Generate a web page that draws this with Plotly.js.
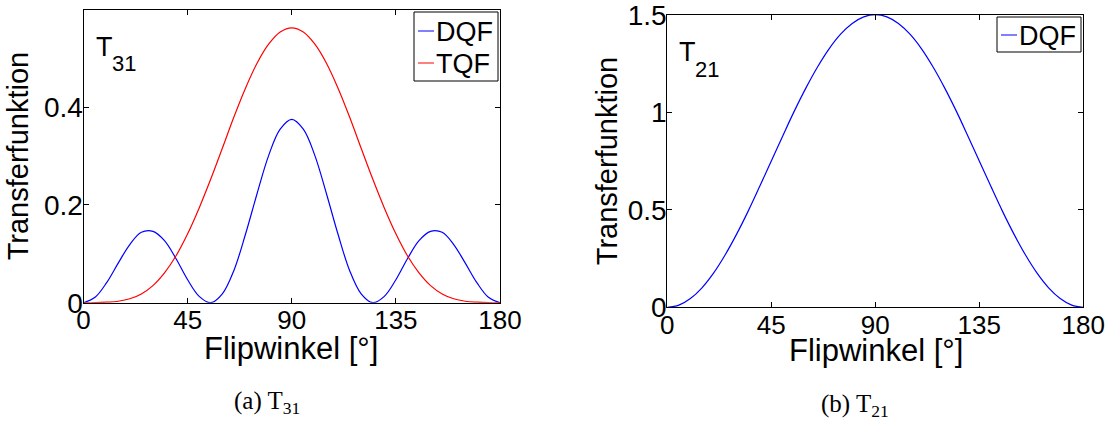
<!DOCTYPE html>
<html>
<head>
<meta charset="utf-8">
<script src="https://cdn.plot.ly/plotly-3.0.1.min.js"></script>
<style>
  html, body { margin: 0; padding: 0; background: #fff; }
  #chart { width: 1113px; height: 424px; }
</style>
</head>
<body>
<div id="chart"></div>
<script>
// Flip angle in degrees (shared by all curves)
const flipAngle = [0, 5, 10, 15, 20, 25, 30, 35, 40, 45, 50, 55, 60, 65, 70, 75, 80, 85, 90,
                   95, 100, 105, 110, 115, 120, 125, 130, 135, 140, 145, 150, 155, 160, 165, 170, 175, 180];

// T31 transfer functions
const dqfT31 = [0, 0.011, 0.041, 0.081, 0.119, 0.144, 0.146, 0.127, 0.090, 0.047, 0.013, 0.000, 0.018,
                0.066, 0.140, 0.223, 0.301, 0.355, 0.375, 0.355, 0.301, 0.223, 0.140, 0.066, 0.018,
                0.000, 0.013, 0.047, 0.090, 0.127, 0.146, 0.144, 0.119, 0.081, 0.041, 0.011, 0];
const tqfT31 = [0, 0.000, 0.001, 0.003, 0.008, 0.018, 0.035, 0.061, 0.096, 0.141, 0.194, 0.253, 0.316,
                0.380, 0.439, 0.490, 0.529, 0.554, 0.5625, 0.554, 0.529, 0.490, 0.439, 0.380, 0.316,
                0.253, 0.194, 0.141, 0.096, 0.061, 0.035, 0.018, 0.008, 0.003, 0.001, 0.000, 0];

// T21 transfer function
const dqfT21 = [0, 0.011, 0.045, 0.100, 0.175, 0.268, 0.375, 0.493, 0.620, 0.750, 0.880, 1.007, 1.125,
                1.232, 1.325, 1.400, 1.455, 1.489, 1.5, 1.489, 1.455, 1.400, 1.325, 1.232, 1.125,
                1.007, 0.880, 0.750, 0.620, 0.493, 0.375, 0.268, 0.175, 0.100, 0.045, 0.011, 0];

// Tick labels
const angleTicks = [0, 45, 90, 135, 180];
const t31Ticks = [0, 0.2, 0.4];
const t21Ticks = [0, 0.5, 1, 1.5];

const seriesNames = ['DQF', 'TQF'];
const panelLabels = ['31', '21'];
const xTitle = 'Flipwinkel [°]';
const yTitle = 'Transferfunktion';
const captions = ['(a) T<sub>31</sub>', '(b) T<sub>21</sub>'];

const W = 1113, H = 424;
const px = v => v / W;          // pixel -> paper x
const py = v => 1 - v / H;      // pixel -> paper y

const BLUE = '#0000ff', RED = '#ff0000';
const SANS = '"Liberation Sans", Arial, Helvetica, sans-serif';
const SERIF = '"Liberation Serif", "Times New Roman", serif';

const traces = [
  { x: flipAngle, y: dqfT31, xaxis: 'x', yaxis: 'y', type: 'scatter', mode: 'lines',
    name: seriesNames[0], line: { color: BLUE, width: 1.2, shape: 'spline' }, cliponaxis: false },
  { x: flipAngle, y: tqfT31, xaxis: 'x', yaxis: 'y', type: 'scatter', mode: 'lines',
    name: seriesNames[1], line: { color: RED, width: 1.2, shape: 'spline' }, cliponaxis: false },
  { x: flipAngle, y: dqfT21, xaxis: 'x2', yaxis: 'y2', type: 'scatter', mode: 'lines',
    name: seriesNames[0], line: { color: BLUE, width: 1.2, shape: 'spline' }, cliponaxis: false }
];

function xAxis(domain, anchor) {
  return {
    domain: domain, anchor: anchor, range: [0, 180],
    tickvals: angleTicks, ticktext: angleTicks.map(String),
    ticks: 'inside', ticklen: 5, tickwidth: 1, tickcolor: '#000',
    showline: true, linecolor: '#000', linewidth: 1, mirror: 'ticks',
    showgrid: false, zeroline: false,
    tickfont: { family: SANS, size: 26, color: '#000' },
    ticklabelstandoff: -6, ticklabeloverflow: 'allow',
    automargin: false, fixedrange: true
  };
}
function yAxis(domain, anchor, range, ticks, standoff) {
  return {
    domain: domain, anchor: anchor, range: range,
    tickvals: ticks, ticktext: ticks.map(String),
    ticks: 'inside', ticklen: 5, tickwidth: 1, tickcolor: '#000',
    showline: true, linecolor: '#000', linewidth: 1, mirror: 'ticks',
    showgrid: false, zeroline: false,
    tickfont: { family: SANS, size: 28, color: '#000' },
    ticklabelstandoff: -6, ticklabeloverflow: 'allow',
    title: { text: yTitle, font: { family: SANS, size: 29, color: '#000' }, standoff: standoff },
    automargin: false, fixedrange: true
  };
}

// Hand-drawn legend boxes with short line samples
const legends = [
  { box: [414, 12, 498, 81], items: [ { y: 31, color: BLUE, text: seriesNames[0] },
                                       { y: 63, color: RED, text: seriesNames[1] } ], x0: 418 },
  { box: [997, 17, 1081, 52], items: [ { y: 35, color: BLUE, text: seriesNames[0] } ], x0: 1001 }
];

const shapes = [];
const annotations = [];
legends.forEach(lg => {
  shapes.push({ type: 'rect', xref: 'paper', yref: 'paper',
    x0: px(lg.box[0]), x1: px(lg.box[2]), y0: py(lg.box[3]), y1: py(lg.box[1]),
    line: { color: '#000', width: 1 }, fillcolor: '#fff', layer: 'above' });
  lg.items.forEach(it => {
    shapes.push({ type: 'line', xref: 'paper', yref: 'paper',
      x0: px(lg.x0), x1: px(lg.x0 + 16), y0: py(it.y), y1: py(it.y),
      line: { color: it.color, width: 1 }, layer: 'above' });
    annotations.push({ xref: 'paper', yref: 'paper', x: px(lg.x0 + 16), y: py(it.y + 1),
      xanchor: 'left', yanchor: 'middle', showarrow: false, text: it.text,
      font: { family: SANS, size: 27, color: '#000' } });
  });
});

// Panel labels T31 / T21
[[95, 47, 0], [678, 52, 1]].forEach(([x, y, i]) => {
  annotations.push({ xref: 'paper', yref: 'paper', x: px(x - 1), y: py(y), xanchor: 'left', yanchor: 'middle',
    showarrow: false, text: 'T', font: { family: SANS, size: 27, color: '#000' } });
  annotations.push({ xref: 'paper', yref: 'paper', x: px(x + 15), y: py(y + 17), xanchor: 'left', yanchor: 'middle',
    showarrow: false, text: panelLabels[i], font: { family: SANS, size: 22, color: '#000' } });
});

// Axis titles below each panel
[[291, 348], [876, 350]].forEach(([x, y]) => {
  annotations.push({ xref: 'paper', yref: 'paper', x: px(x), y: py(y), xanchor: 'center', yanchor: 'middle',
    showarrow: false, text: xTitle, font: { family: SANS, size: 31, color: '#000' } });
});

// Sub-figure captions
[[267, 402, 0], [855, 405, 1]].forEach(([x, y, i]) => {
  annotations.push({ xref: 'paper', yref: 'paper', x: px(x), y: py(y), xanchor: 'center', yanchor: 'middle',
    showarrow: false, text: captions[i], font: { family: SERIF, size: 25, color: '#000' } });
});

const layout = {
  width: W, height: H,
  margin: { l: 0, r: 0, t: 0, b: 0, pad: 0 },
  paper_bgcolor: '#fff', plot_bgcolor: '#fff',
  showlegend: false,
  xaxis: xAxis([px(83.5), px(500)], 'y'),
  yaxis: yAxis([py(302.7), py(9.5)], 'x', [0, 0.6], t31Ticks, 6),
  xaxis2: xAxis([px(667.3), px(1083.3)], 'y2'),
  yaxis2: yAxis([py(307.3), py(14.7)], 'x2', [0, 1.5], t21Ticks, 1),
  shapes: shapes,
  annotations: annotations
};

Plotly.newPlot('chart', traces, layout, { staticPlot: true, displayModeBar: false });
</script>
</body>
</html>
